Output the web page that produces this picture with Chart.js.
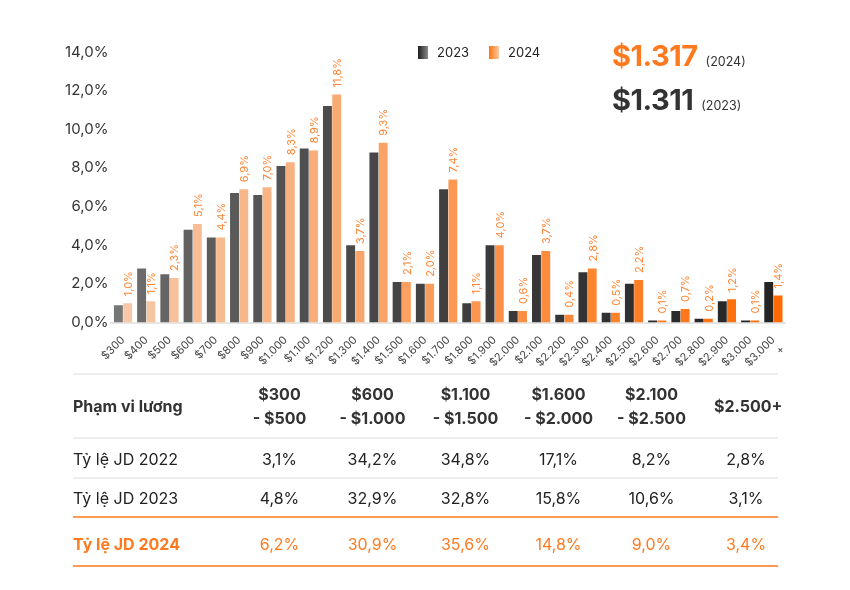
<!DOCTYPE html>
<html>
<head>
<meta charset="utf-8">
<script src="https://cdn.jsdelivr.net/npm/chart.js@4.4.0/dist/chart.umd.min.js"></script>
<style>
  body { margin: 0; background: #fff; font-family: Inter, "Noto Sans", sans-serif; color: #222; }
  #wrap { position: relative; width: 850px; height: 590px; }
  #chartBox { position: absolute; left: 0; top: 0; width: 850px; height: 382px; }
  .legend { position: absolute; top: 44px; font-size: 13px; color: #222; }
  .legend span.sw { display: inline-block; width: 10px; height: 13px; vertical-align: -2px; margin-right: 9px; }
  .big { position: absolute; left: 612px; font-weight: 700; font-size: 29px; letter-spacing: -0.5px; }
  .big small { font-size: 12.5px; font-weight: 400; color: #333; margin-left: 8px; letter-spacing: 0; }
  table { position: absolute; left: 73px; top: 373px; width: 705px; border-collapse: collapse; table-layout: fixed; font-size: 16px; background: #fff; }
  td { text-align: center; padding: 0; }
  td:first-child { text-align: left; }
  tr.head td { height: 62px; font-weight: 700; line-height: 24px; border-top: 2px solid #eee; border-bottom: 2px solid #eee; color: #333; }
  tr.r22 td { height: 36px; padding-top: 2px; border-bottom: 2px solid #eee; }
  tr.r23 td { height: 37px; padding-top: 0px; border-bottom: 2px solid #ff9a55; }
  tr.r24 td { height: 43px; padding-top: 4px; border-bottom: 2px solid #ff9a55; color: #ff7a1f; }
  tr.r24 td:first-child { font-weight: 700; }
  td.last { padding-left: 16px; }
</style>
</head>
<body>
<div id="wrap">
  <div id="chartBox"><canvas id="salaryChart" width="850" height="382"></canvas></div>
  <div class="legend" style="left:418px"><span class="sw" style="background:linear-gradient(90deg,#1e1e1e,#8a8a8a)"></span>2023</div>
  <div class="legend" style="left:489px"><span class="sw" style="background:linear-gradient(90deg,#ff7410,#ffc8a0)"></span>2024</div>
  <div class="big" style="top:38px;color:#ff7a1f">$1.317<small>(2024)</small></div>
  <div class="big" style="top:82px;color:#333">$1.311<small>(2023)</small></div>
  <table id="tbl">
    <colgroup><col style="width:160px"><col style="width:93px"><col style="width:93px"><col style="width:93px"><col style="width:93px"><col style="width:93px"><col style="width:80px"></colgroup>
  </table>
</div>
<script>
// Salary buckets (USD)
const categories = ['$300', '$400', '$500', '$600', '$700', '$800', '$900', '$1.000', '$1.100', '$1.200',
  '$1.300', '$1.400', '$1.500', '$1.600', '$1.700', '$1.800', '$1.900', '$2.000', '$2.100', '$2.200',
  '$2.300', '$2.400', '$2.500', '$2.600', '$2.700', '$2.800', '$2.900', '$3.000', ['$3.000', '+']];

const jd2023 = [0.9, 2.8, 2.5, 4.8, 4.4, 6.7, 6.6, 8.1, 9.0, 11.2,
  4.0, 8.8, 2.1, 2.0, 6.9, 1.0, 4.0, 0.6, 3.5, 0.4,
  2.6, 0.5, 2.0, 0.1, 0.6, 0.2, 1.1, 0.1, 2.1];

const jd2024 = [1.0, 1.1, 2.3, 5.1, 4.4, 6.9, 7.0, 8.3, 8.9, 11.8,
  3.7, 9.3, 2.1, 2.0, 7.4, 1.1, 4.0, 0.6, 3.7, 0.4,
  2.8, 0.5, 2.2, 0.1, 0.7, 0.2, 1.2, 0.1, 1.4];

const yTicks = [0, 2, 4, 6, 8, 10, 12, 14];

// Summary table
const rangeHeads = [['$300', '- $500'], ['$600', '- $1.000'], ['$1.100', '- $1.500'],
  ['$1.600', '- $2.000'], ['$2.100', '- $2.500'], ['$2.500+']];
const share2022 = [3.1, 34.2, 34.8, 17.1, 8.2, 2.8];
const share2023 = [4.8, 32.9, 32.8, 15.8, 10.6, 3.1];
const share2024 = [6.2, 30.9, 35.6, 14.8, 9.0, 3.4];

const pct = v => v.toFixed(1).replace('.', ',') + '%';

// build the table
const tbl = document.getElementById('tbl');
function addRow(cls, first, cells) {
  const tr = document.createElement('tr');
  tr.className = cls;
  let html = '<td>' + first + '</td>';
  cells.forEach((c, i) => {
    html += '<td' + (i === cells.length - 1 ? ' class="last"' : '') + '>' + c + '</td>';
  });
  tr.innerHTML = html;
  tbl.appendChild(tr);
}
addRow('head', 'Phạm vi lương', rangeHeads.map(h => h.join('<br>')));
addRow('r22', 'Tỷ lệ JD 2022', share2022.map(pct));
addRow('r23', 'Tỷ lệ JD 2023', share2023.map(pct));
addRow('r24', 'Tỷ lệ JD 2024', share2024.map(pct));

// bar colours drift darker / more saturated to the right
const n = categories.length;
const mix = (a, b, t) => Math.round(a + (b - a) * t);
const dark = categories.map((c, i) => {
  const t = Math.pow(i / (n - 1), 0.6);
  const g = mix(118, 36, t);
  return 'rgb(' + g + ',' + g + ',' + g + ')';
});
const orange = categories.map((c, i) => {
  const t = i / (n - 1);
  return 'rgb(' + mix(246, 255, t) + ',' + mix(200, 106, t) + ',' + mix(168, 0, t) + ')';
});

// rotated value labels above the 2024 bars
const barLabels = {
  id: 'barLabels',
  afterDatasetsDraw(chart) {
    const ctx = chart.ctx;
    const meta = chart.getDatasetMeta(1);
    ctx.save();
    ctx.font = '11px Inter, sans-serif';
    ctx.fillStyle = '#ff8433';
    ctx.textAlign = 'left';
    ctx.textBaseline = 'middle';
    meta.data.forEach((bar, i) => {
      ctx.save();
      ctx.translate(bar.x + 1, bar.y - 7);
      ctx.rotate(-Math.PI / 2);
      ctx.fillText(pct(jd2024[i]), 0, 0);
      ctx.restore();
    });
    ctx.restore();
  }
};

new Chart(document.getElementById('salaryChart'), {
  type: 'bar',
  data: {
    labels: categories,
    datasets: [
      { label: '2023', data: jd2023, backgroundColor: dark, categoryPercentage: 0.8, barPercentage: 0.96 },
      { label: '2024', data: jd2024, backgroundColor: orange, categoryPercentage: 0.8, barPercentage: 0.96 }
    ]
  },
  options: {
    responsive: false,
    animation: false,
    layout: { padding: { left: 62, right: 65, top: 52, bottom: 0 } },
    plugins: { legend: { display: false }, tooltip: { enabled: false } },
    scales: {
      x: {
        grid: { display: false },
        border: { color: '#e6e6e6', width: 2 },
        ticks: { color: '#444', font: { size: 11, family: 'Inter' }, minRotation: 45, maxRotation: 45, autoSkip: false, padding: 3 }
      },
      y: {
        min: 0,
        max: 14,
        afterBuildTicks: axis => { axis.ticks = yTicks.map(v => ({ value: v })); },
        grid: { display: false, drawTicks: false },
        border: { display: false },
        ticks: { color: '#333', font: { size: 15, family: 'Inter' }, padding: 3, callback: v => pct(v) }
      }
    }
  },
  plugins: [barLabels]
});
</script>
</body>
</html>
